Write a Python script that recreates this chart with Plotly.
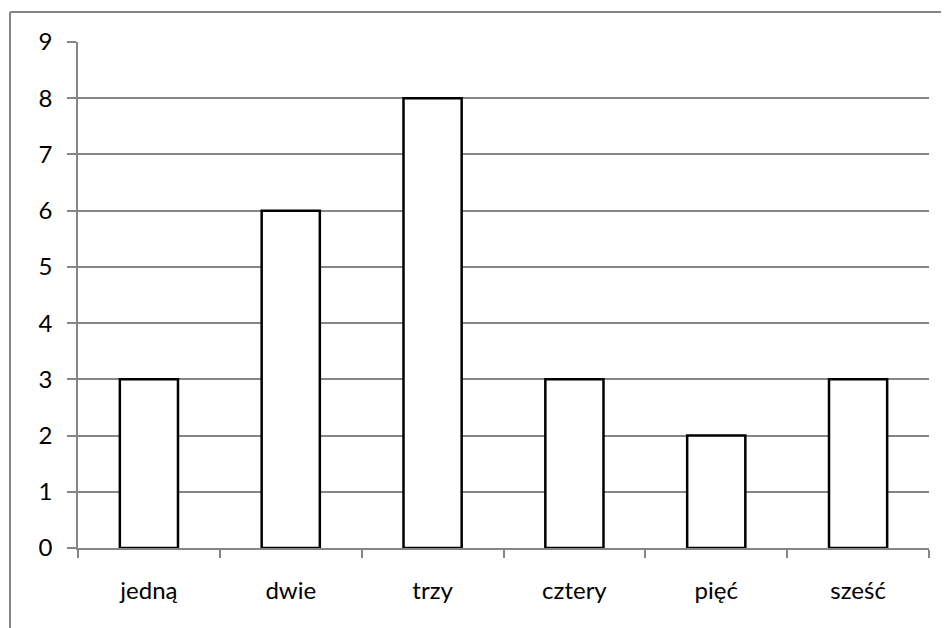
import plotly.graph_objects as go

categories = ["jedną", "dwie", "trzy", "cztery", "pięć", "sześć"]
values = [3, 6, 8, 3, 2, 3]
y_ticks = [0, 1, 2, 3, 4, 5, 6, 7, 8, 9]

GRAY = "#868686"

fig = go.Figure(
    go.Bar(
        x=categories,
        y=values,
        width=0.41,
        marker=dict(color="white", line=dict(color="black", width=2.5)),
        hoverinfo="x+y",
    )
)

# the page body has an 8px default margin, so the figure is sized 941x620
fig.update_layout(
    width=941,
    height=620,
    margin=dict(l=70, r=20, t=34, b=80),
    paper_bgcolor="white",
    plot_bgcolor="white",
    showlegend=False,
    font=dict(family="Lato, Carlito, 'Open Sans', sans-serif", size=24, color="black"),
    xaxis=dict(
        type="category",
        showline=True,
        linecolor=GRAY,
        linewidth=2,
        ticks="outside",
        tickson="boundaries",
        ticklen=8,
        tickcolor=GRAY,
        tickwidth=1.5,
        showgrid=False,
        ticklabelstandoff=20,
        layer="above traces",
    ),
    yaxis=dict(
        range=[0, 9],
        tickvals=y_ticks,
        showline=True,
        linecolor=GRAY,
        linewidth=1.5,
        ticks="outside",
        ticklen=9,
        tickcolor=GRAY,
        tickwidth=1.5,
        showgrid=True,
        gridcolor=GRAY,
        gridwidth=1.5,
        zeroline=False,
        ticklabelstandoff=10,
    ),
)

# chart-area border (only top and left visible in the frame)
fig.add_shape(type="line", xref="paper", yref="paper",
              x0=-0.0799, x1=1.05, y0=1.0593, y1=1.0593,
              line=dict(color=GRAY, width=2))
fig.add_shape(type="line", xref="paper", yref="paper",
              x0=-0.0799, x1=-0.0799, y0=1.0593, y1=-0.2,
              line=dict(color=GRAY, width=2))

fig.write_html("out.html")
